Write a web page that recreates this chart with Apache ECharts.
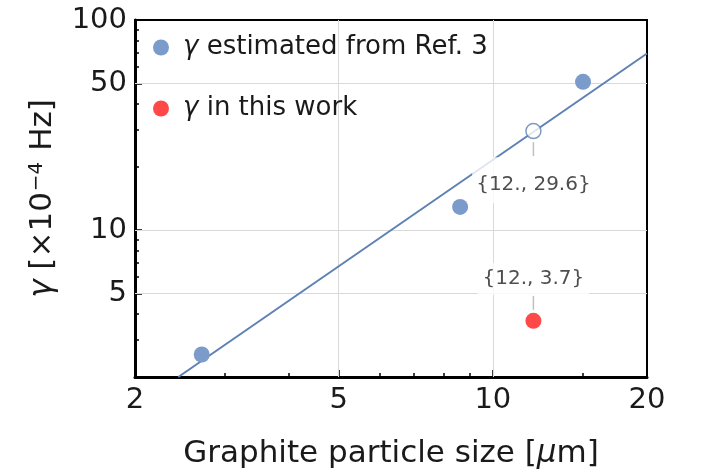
<!DOCTYPE html>
<html>
<head>
<meta charset="utf-8">
<script src="https://cdn.jsdelivr.net/npm/echarts@6/dist/echarts.min.js"></script>
<style>html,body{margin:0;padding:0;background:#fff}#c{width:704px;height:476px}</style>
</head>
<body>
<div id="c"></div>
<script>
// ---- data ----
const seriesNames = ['γ estimated from Ref. 3', 'γ in this work'];
const refX = [2.70, 8.63, 15.0];
const refY = [2.56, 12.9, 50.8];
const workX = [12];
const workY = [3.7];
const predX = [12];
const predY = [29.6];
const fitX = [2.43, 20];
const fitY = [2.0, 69.3];
const xMajorTicks = [2, 5, 10, 20];
const xMinorTicks = [3, 4, 6, 7, 8, 9, 15];
const yMajorTicks = [5, 10, 50, 100];
const yMinorTicks = [3, 4, 6, 7, 8, 9, 20, 30, 40, 60, 70, 80, 90];
const gridX = [5, 10];
const gridY = [5, 10, 50];
const xTitle = 'Graphite particle size [{i|μ}m]';
const yTitle = '{i|γ} [×10{sup|−4} Hz]';

const zip = (a, b) => a.map((v, i) => [v, b[i]]);
const fmtPt = (x, y) => '{' + (Number.isInteger(x) ? x + '.' : x) + ', ' + y + '}';

const AX_FONT = 'DejaVu Sans, sans-serif';
const LB_FONT = 'DejaVu Sans, sans-serif';
const TXT = '#1a1a1a';
const BLUE_LINE = '#5e81b5';
const BLUE_PT = '#7b9bca';
const RED = '#ff1a1a';

const chart = echarts.init(document.getElementById('c'), null, {renderer: 'canvas'});

const mainX = {
  type: 'log', logBase: 10, min: 2, max: 20, position: 'bottom', gridIndex: 0,
  axisLine: {show: true, onZero: false, lineStyle: {color: '#000', width: 3}},
  axisTick: {show: true, inside: true, length: 7, customValues: xMajorTicks, lineStyle: {color: '#000', width: 1.5}},
  axisLabel: {show: true, customValues: xMajorTicks, fontSize: 29, fontFamily: AX_FONT, color: TXT, margin: 9},
  minorTick: {show: false}, splitLine: {show: false},
  name: xTitle, nameLocation: 'middle', nameGap: 61,
  nameTextStyle: {fontSize: 31, fontFamily: AX_FONT, color: TXT,
    rich: {i: {fontSize: 31, fontFamily: AX_FONT, fontStyle: 'italic', color: TXT}}}
};
const minorX = {
  type: 'log', logBase: 10, min: 2, max: 20, position: 'bottom', gridIndex: 0,
  axisLine: {show: false, onZero: false},
  axisTick: {show: true, inside: true, length: 4, customValues: xMinorTicks, lineStyle: {color: '#000', width: 1.5}},
  axisLabel: {show: false}, splitLine: {show: false}, minorTick: {show: false}
};
const mainY = {
  type: 'log', logBase: 10, min: 2, max: 100, position: 'left', gridIndex: 0,
  axisLine: {show: true, onZero: false, lineStyle: {color: '#000', width: 3}},
  axisTick: {show: true, inside: true, length: 7, customValues: yMajorTicks, lineStyle: {color: '#000', width: 1.5}},
  axisLabel: {show: true, customValues: yMajorTicks, fontSize: 29, fontFamily: AX_FONT, color: TXT, margin: 8},
  minorTick: {show: false}, splitLine: {show: false},
  name: yTitle, nameLocation: 'middle', nameGap: 76,
  nameTextStyle: {fontSize: 31, fontFamily: AX_FONT, color: TXT, lineHeight: 32,
    rich: {
      i: {fontSize: 31, fontFamily: AX_FONT, fontStyle: 'italic', color: TXT, lineHeight: 32},
      sup: {fontSize: 20, fontFamily: AX_FONT, color: TXT, verticalAlign: 'top', lineHeight: 20, padding: [0, 1, 12, 1]}
    }}
};
const minorY = {
  type: 'log', logBase: 10, min: 2, max: 100, position: 'left', gridIndex: 0,
  axisLine: {show: false, onZero: false},
  axisTick: {show: true, inside: true, length: 4, customValues: yMinorTicks, lineStyle: {color: '#000', width: 1.5}},
  axisLabel: {show: false}, splitLine: {show: false}, minorTick: {show: false}
};

const option = {
  animation: false,
  backgroundColor: '#fff',
  grid: {left: 135, right: 57, top: 20, bottom: 99, show: true, borderColor: '#000', borderWidth: 2, backgroundColor: 'transparent'},
  legend: {
    data: seriesNames, orient: 'vertical', left: 153, top: 33, padding: 0,
    itemWidth: 16, itemHeight: 16, itemGap: 32, itemTextGap: 15, icon: 'circle',
    formatter: n => '{i|γ}' + n.slice(1),
    textStyle: {fontSize: 26, fontFamily: AX_FONT, color: TXT, lineHeight: 29,
      rich: {i: {fontSize: 26, fontFamily: AX_FONT, fontStyle: 'italic', color: TXT, lineHeight: 29, padding: [0, 0, 0, 9]}}}
  },
  xAxis: [mainX, minorX],
  yAxis: [mainY, minorY],
  series: [
    {
      type: 'line', name: 'grid', data: [], z: 1, silent: true,
      markLine: {
        silent: true, symbol: ['none', 'none'], z: 1, animation: false,
        label: {show: false},
        lineStyle: {color: '#d9d9d9', width: 1, type: 'solid'},
        data: gridX.map(v => ({xAxis: v})).concat(gridY.map(v => ({yAxis: v})))
      }
    },
    {
      type: 'line', name: 'fit', data: zip(fitX, fitY), z: 2, silent: true,
      showSymbol: false, symbol: 'none',
      lineStyle: {color: BLUE_LINE, width: 2}
    },
    {
      type: 'scatter', name: seriesNames[0], data: zip(refX, refY), z: 3,
      symbol: 'circle', symbolSize: 16, itemStyle: {color: BLUE_PT, opacity: 1}
    },
    // callout ticks
    {
      type: 'scatter', name: 'tick1', data: zip(predX, predY), z: 3, silent: true,
      symbolSize: 0,
      label: {show: true, position: 'bottom', distance: 11, formatter: '{tk|}',
        rich: {tk: {width: 1.5, height: 14, backgroundColor: '#b0b0b0'}}}
    },
    {
      type: 'scatter', name: 'tick2', data: zip(workX, workY), z: 3, silent: true,
      symbolSize: 0,
      label: {show: true, position: 'top', distance: 11, formatter: '{tk|}',
        rich: {tk: {width: 1.5, height: 14, backgroundColor: '#b0b0b0'}}}
    },
    {
      type: 'scatter', name: 'pred', data: zip(predX, predY), z: 4,
      symbol: 'circle', symbolSize: 15,
      itemStyle: {color: '#fff', borderColor: BLUE_LINE, borderWidth: 1.5},
      label: {show: true, position: 'bottom', distance: 18,
        formatter: p => fmtPt(p.value[0], p.value[1]),
        fontFamily: LB_FONT, fontSize: 20, color: '#222', lineHeight: 24,
        backgroundColor: '#fff', padding: [15, 4, 7, 4]}
    },
    {
      type: 'scatter', name: seriesNames[1], data: zip(workX, workY), z: 4,
      symbol: 'circle', symbolSize: 16, itemStyle: {color: RED},
      label: {show: true, position: 'top', distance: 18,
        formatter: p => fmtPt(p.value[0], p.value[1]),
        fontFamily: LB_FONT, fontSize: 20, color: '#222', lineHeight: 24,
        backgroundColor: '#fff', padding: [4, 5, 4, 5]}
    }
  ]
};
chart.setOption(option);
</script>
</body>
</html>
